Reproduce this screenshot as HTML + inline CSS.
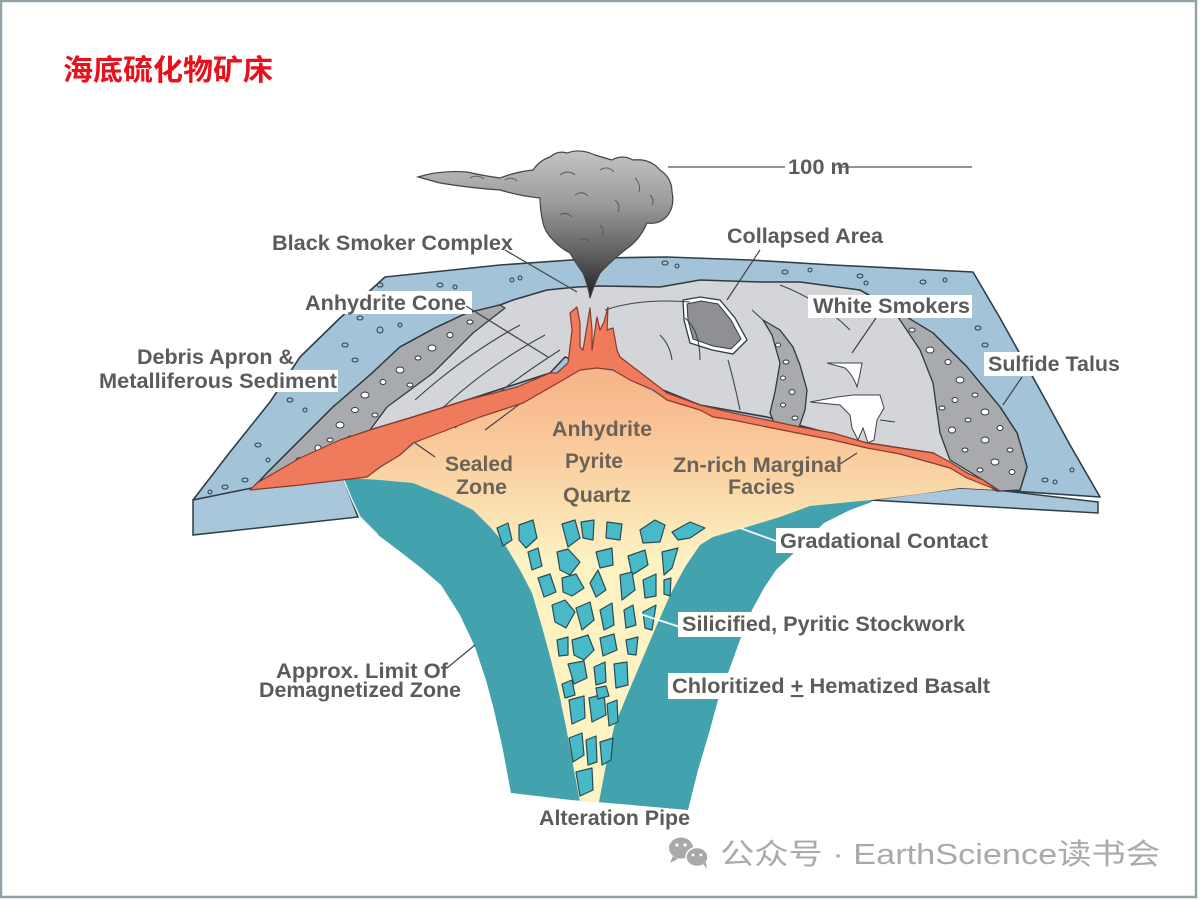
<!DOCTYPE html>
<html><head><meta charset="utf-8"><style>
html,body{margin:0;padding:0;background:#fff;}
svg{display:block;}
</style></head><body>
<svg width="1200" height="900" viewBox="0 0 1200 900" xmlns="http://www.w3.org/2000/svg">
<defs>
<linearGradient id="smoke" x1="0" y1="150" x2="0" y2="300" gradientUnits="userSpaceOnUse">
<stop offset="0" stop-color="#c4c4c4"/><stop offset="0.35" stop-color="#9c9c9c"/><stop offset="0.7" stop-color="#5e5e5e"/><stop offset="1" stop-color="#1e1e1e"/>
</linearGradient>
<linearGradient id="alt" x1="0" y1="380" x2="0" y2="560" gradientUnits="userSpaceOnUse">
<stop offset="0" stop-color="#f7b68a"/><stop offset="0.4" stop-color="#f9cb9d"/><stop offset="0.75" stop-color="#fbe2b2"/><stop offset="1" stop-color="#fcf2c2"/>
</linearGradient>
</defs>
<rect x="0" y="0" width="1200" height="900" fill="#fff"/>
<rect x="1" y="1" width="1195" height="896" fill="none" stroke="#91a2a8" stroke-width="2.5"/>

<!-- title -->
<text x="63" y="80" font-family="'Liberation Sans','Noto Sans CJK SC',sans-serif" font-weight="bold" font-size="29" fill="#e8101a" textLength="210" lengthAdjust="spacingAndGlyphs">海底硫化物矿床</text>

<!-- blue slab top surface -->
<polygon points="193,500 230,452 270,402 300,357 340,318 385,277 500,265 600,258 667,257 750,260 833,265 973,272 1000,318 1040,390 1070,445 1100,497 997,490 960,488 872,500 345,478 253,488" fill="#a3c4d8" stroke="#2f3d47" stroke-width="1.6" stroke-linejoin="round"/>
<!-- left front face -->
<polygon points="193,500 257,487 343,478 358,517 193,535" fill="#a8c7da" stroke="#2f3d47" stroke-width="1.5"/>
<!-- right front face -->
<polygon points="870,500 960,488 997,490 1098,502 1098,513" fill="#a8c7da" stroke="#2f3d47" stroke-width="1.5"/>

<!-- teal pipe -->
<polygon points="343,478 352,500 360,517 378,535 394,547 420,567 441,585 460,615 475,647 486,680 494,710 503,750 511,793 571,800 597,802 688,810 698,770 709,733 718,700 728,673 740,640 752,610 764,588 776,570 800,547 824,523 850,510 872,502 870,500 700,500 400,480" fill="#42a2ad"/>
<polyline points="343,478 352,500 360,517 378,535" fill="none" stroke="#e8f4f6" stroke-width="1.5"/>

<!-- alteration zone (peach + pipe) -->
<polygon points="250,490 300,485 367,477 400,455 417,443 450,420 500,400 550,380 577,371 600,368 623,375 640,385 667,400 700,410 733,420 767,427 833,440 867,448 900,454 950,468 967,478 997,490 960,488 920,494 872,500 850,502 810,506 780,517 747,527 713,537 700,545 685,567 671,593 656,627 642,660 628,693 614,727 606,765 599,802 580,802 573,765 566,727 559,693 551,660 542,627 532,593 520,570 504,543 490,527 473,510 447,497 413,483 380,480 346,478" fill="url(#alt)"/>

<!-- stockwork fragments -->
<g fill="#48b9c8" stroke="#2b4a52" stroke-width="1.2" stroke-linejoin="round">
<polygon points="497,528 508,523 512,540 503,546"/>
<polygon points="519,525 533,520 537,538 526,548 519,540"/>
<polygon points="562,524 575,520 580,538 568,547"/>
<polygon points="581,522 594,520 593,540 583,538"/>
<polygon points="607,522 622,524 620,540 606,538"/>
<polygon points="640,530 655,520 665,525 660,542 643,543"/>
<polygon points="672,532 690,522 705,528 690,538 678,540"/>
<polygon points="528,552 538,548 542,566 532,570"/>
<polygon points="557,552 568,549 580,562 570,575 560,570"/>
<polygon points="596,552 612,548 613,565 600,568"/>
<polygon points="628,556 645,550 648,565 632,575"/>
<polygon points="662,552 678,548 672,568 664,575"/>
<polygon points="538,578 550,574 556,592 544,597"/>
<polygon points="562,578 576,574 584,588 572,596 563,592"/>
<polygon points="590,583 598,570 606,590 596,597"/>
<polygon points="620,575 632,572 635,590 622,600"/>
<polygon points="643,580 656,574 656,596 645,598"/>
<polygon points="664,580 671,578 670,596 664,594"/>
<polygon points="552,605 565,600 575,612 566,628 555,622"/>
<polygon points="576,608 590,602 594,620 582,630"/>
<polygon points="600,610 612,603 614,625 604,630"/>
<polygon points="624,610 633,605 636,625 626,628"/>
<polygon points="643,612 656,605 652,630 645,628"/>
<polygon points="557,640 568,637 568,655 559,656"/>
<polygon points="572,640 588,635 594,650 584,660 574,655"/>
<polygon points="600,638 614,634 617,650 603,656"/>
<polygon points="626,640 638,637 636,655 628,654"/>
<polygon points="568,664 584,661 587,678 574,684"/>
<polygon points="594,667 605,662 606,682 596,685"/>
<polygon points="614,664 627,662 628,685 616,688"/>
<polygon points="562,684 572,680 575,695 565,698"/>
<polygon points="569,700 584,696 585,718 572,724"/>
<polygon points="589,698 604,694 606,715 592,722"/>
<polygon points="607,704 617,700 618,722 609,726"/>
<polygon points="596,688 606,686 609,696 598,699"/>
<polygon points="569,738 582,733 584,755 573,762"/>
<polygon points="586,740 596,736 597,762 588,765"/>
<polygon points="600,742 613,738 611,760 602,765"/>
<polygon points="576,772 592,768 593,790 580,796"/>
</g>

<!-- gray mound -->
<polygon points="253,488 267,473 300,440 333,407 370,375 400,347 435,328 467,313 500,305 513,300 547,290 577,287 600,286 660,287 700,280 760,282 800,282 860,290 895,310 933,333 967,367 1000,407 1017,433 1027,467 1020,490 997,491 967,473 933,453 867,443 767,417 700,405 633,378 617,365 600,368 565,357 550,373 467,400 413,417 370,430 257,483" fill="#d4d5d8" stroke="#2f3a40" stroke-width="1.6" stroke-linejoin="round"/>

<!-- left debris apron -->
<polygon points="253,488 267,473 300,440 333,407 370,375 400,347 435,328 467,313 500,305 505,308 473,333 433,373 387,407 370,430 340,445 300,465 257,483" fill="#a9aaad" stroke="#2f3a40" stroke-width="1.3" stroke-linejoin="round"/>
<!-- right talus -->
<polygon points="893,310 900,313 933,333 967,367 1000,407 1017,433 1027,467 1020,490 1000,491 983,480 950,460 940,433 933,383 920,350 900,320" fill="#a9aaad" stroke="#2f3a40" stroke-width="1.3" stroke-linejoin="round"/>
<!-- middle talus -->
<polygon points="763,320 772,335 780,363 775,392 770,413 775,425 797,433 805,410 807,390 800,365 793,347 780,330" fill="#a9aaad" stroke="#2f3a40" stroke-width="1.3" stroke-linejoin="round"/>
<!-- collapsed blob -->
<polygon points="683,300 700,297 720,300 735,318 747,340 733,354 712,350 690,343 684,320" fill="#fff" stroke="#2f3a40" stroke-width="1.3"/>
<polygon points="687,304 701,301 718,304 731,320 741,339 731,349 713,346 693,339 688,320" fill="#8f9094" stroke="#2f3a40" stroke-width="1"/>

<!-- debris pebbles -->
<g fill="#fff" stroke="#2f3a40" stroke-width="1">
<ellipse cx="300" cy="460" rx="4" ry="2.5"/><ellipse cx="318" cy="448" rx="3" ry="3"/><ellipse cx="285" cy="470" rx="3.5" ry="2"/>
<ellipse cx="340" cy="425" rx="4" ry="3"/><ellipse cx="330" cy="440" rx="3" ry="2"/><ellipse cx="355" cy="410" rx="3.5" ry="2.5"/>
<ellipse cx="365" cy="395" rx="4" ry="3"/><ellipse cx="383" cy="382" rx="3" ry="2.5"/><ellipse cx="400" cy="370" rx="4" ry="3"/>
<ellipse cx="418" cy="358" rx="3" ry="2"/><ellipse cx="432" cy="348" rx="4" ry="3"/><ellipse cx="450" cy="335" rx="3" ry="2.5"/>
<ellipse cx="470" cy="322" rx="3" ry="2"/><ellipse cx="375" cy="415" rx="3" ry="2"/><ellipse cx="350" cy="438" rx="2.5" ry="2"/>
<ellipse cx="410" cy="385" rx="3" ry="2"/><ellipse cx="310" cy="470" rx="3" ry="2"/><ellipse cx="275" cy="478" rx="3" ry="2"/>
<ellipse cx="912" cy="330" rx="3" ry="2"/><ellipse cx="930" cy="350" rx="4" ry="3"/><ellipse cx="948" cy="362" rx="3" ry="2.5"/>
<ellipse cx="960" cy="380" rx="4" ry="3"/><ellipse cx="975" cy="395" rx="3" ry="2"/><ellipse cx="955" cy="400" rx="3" ry="2.5"/>
<ellipse cx="985" cy="412" rx="4" ry="3"/><ellipse cx="968" cy="420" rx="3" ry="2"/><ellipse cx="1000" cy="428" rx="3" ry="2.5"/>
<ellipse cx="952" cy="430" rx="3.5" ry="3"/><ellipse cx="985" cy="440" rx="4" ry="3"/><ellipse cx="1010" cy="450" rx="3" ry="2"/>
<ellipse cx="965" cy="450" rx="3" ry="2"/><ellipse cx="995" cy="462" rx="4" ry="3"/><ellipse cx="1012" cy="472" rx="3" ry="2.5"/>
<ellipse cx="980" cy="470" rx="3" ry="2"/><ellipse cx="942" cy="408" rx="3" ry="2"/>
<ellipse cx="778" cy="345" rx="2.5" ry="2"/><ellipse cx="786" cy="362" rx="3" ry="2"/><ellipse cx="783" cy="378" rx="2.5" ry="2"/>
<ellipse cx="792" cy="392" rx="3" ry="2.5"/><ellipse cx="783" cy="405" rx="2.5" ry="2"/><ellipse cx="795" cy="418" rx="3" ry="2"/>
</g>

<!-- blue pebbles -->
<g fill="none" stroke="#2f3d47" stroke-width="1">
<ellipse cx="380" cy="285" rx="3" ry="2"/><ellipse cx="440" cy="285" rx="3" ry="2"/><ellipse cx="455" cy="287" rx="2" ry="2"/>
<ellipse cx="512" cy="280" rx="2" ry="2"/><ellipse cx="520" cy="278" rx="2" ry="2"/><ellipse cx="345" cy="345" rx="3" ry="2"/>
<ellipse cx="355" cy="360" rx="3" ry="2"/><ellipse cx="360" cy="318" rx="3" ry="2"/><ellipse cx="380" cy="330" rx="3" ry="3"/>
<ellipse cx="400" cy="325" rx="2" ry="2"/><ellipse cx="332" cy="387" rx="3" ry="2"/><ellipse cx="290" cy="400" rx="3" ry="2"/>
<ellipse cx="305" cy="410" rx="2" ry="2"/><ellipse cx="258" cy="445" rx="3" ry="2"/><ellipse cx="268" cy="460" rx="2" ry="2"/>
<ellipse cx="245" cy="480" rx="3" ry="2"/><ellipse cx="225" cy="487" rx="3" ry="2"/><ellipse cx="210" cy="492" rx="2" ry="2"/>
<ellipse cx="665" cy="263" rx="3" ry="2"/><ellipse cx="677" cy="266" rx="2" ry="2"/><ellipse cx="785" cy="272" rx="3" ry="2"/>
<ellipse cx="810" cy="270" rx="2" ry="2"/><ellipse cx="860" cy="276" rx="3" ry="2"/><ellipse cx="866" cy="283" rx="2" ry="2"/>
<ellipse cx="923" cy="282" rx="3" ry="2"/><ellipse cx="945" cy="280" rx="2" ry="2"/><ellipse cx="978" cy="328" rx="3" ry="2"/>
<ellipse cx="985" cy="345" rx="3" ry="2"/><ellipse cx="1045" cy="480" rx="3" ry="2"/><ellipse cx="1055" cy="482" rx="2" ry="2"/>
<ellipse cx="1072" cy="470" rx="2" ry="2"/>
</g>

<!-- mound internal lines -->
<g fill="none" stroke="#3c4448" stroke-width="1.1">
<path d="M430,420 Q480,370 545,335"/>
<path d="M455,428 Q505,385 560,350"/>
<path d="M485,430 Q525,400 565,370"/>
<path d="M415,400 Q465,355 520,325"/>
<path d="M605,310 Q640,298 690,302"/>
<path d="M700,360 Q700,330 685,318"/>
<path d="M728,360 Q735,385 740,410"/>
<path d="M660,335 Q670,345 672,360"/>
<path d="M752,310 L763,320"/>
<path d="M780,285 Q820,300 850,330"/>
<path d="M880,420 L895,422"/>
</g>

<!-- white smokers -->
<g fill="#fff" stroke="#3c4448" stroke-width="1">
<path d="M827,363 L862,363 Q860,375 857,387 Q853,375 845,368 Z"/>
<path d="M810,402 L837,397 L853,395 L880,395 L884,408 L877,420 L874,440 L868,443 L863,428 L858,440 L852,428 L850,415 L840,405 Z"/>
</g>

<!-- orange band -->
<polygon points="250,490 257,483 300,458 340,440 370,430 413,417 467,400 517,387 550,373 557,373 568,363 570,347 572,330 570,313 577,307 580,323 580,347 583,350 588,320 590,308 592,330 592,350 597,317 600,330 604,322 608,307 607,330 613,328 617,350 620,357 637,370 667,393 700,405 733,413 767,420 800,427 833,433 867,443 900,448 933,453 950,462 967,473 983,480 993,487 1000,491 997,490 967,478 950,468 900,454 867,448 833,440 767,427 733,420 713,417 700,410 667,400 653,390 630,380 613,370 597,368 580,370 563,380 523,403 480,417 447,430 413,443 400,455 380,467 367,477 300,485" fill="#ef7a5c" stroke="#8a3a28" stroke-width="1.2" stroke-linejoin="round"/>

<!-- smoke plume -->
<path d="M418,177 Q440,170 467,172 Q485,176 500,178 Q515,172 533,170 Q540,160 550,157 Q558,150 567,153 Q580,148 595,155 Q605,158 612,160 Q622,154 633,160 Q650,158 660,170 Q672,178 672,192 Q675,205 668,215 Q660,225 647,223 Q640,240 625,250 Q610,262 600,273 Q594,285 590,298 Q588,285 583,273 Q575,262 570,253 Q560,248 553,240 Q545,232 543,223 Q540,210 540,198 Q520,196 500,190 Q470,188 440,183 Z" fill="url(#smoke)" stroke="#444" stroke-width="1.2"/>
<g fill="none" stroke="#555" stroke-width="0.9">
<path d="M560,175 q8,-6 15,0"/><path d="M600,170 q8,-5 14,2"/><path d="M635,178 q6,6 4,14"/><path d="M575,195 q7,-5 13,1"/><path d="M615,200 q6,5 3,12"/><path d="M560,215 q6,-4 12,2"/><path d="M600,225 q5,5 2,12"/><path d="M580,240 q5,-3 9,2"/><path d="M470,178 q8,-4 14,1"/><path d="M505,180 q7,-4 12,1"/><path d="M650,195 q5,5 2,10"/>
</g>

<!-- scale bar -->
<line x1="668" y1="167" x2="785" y2="167" stroke="#555" stroke-width="1.3"/>
<line x1="838" y1="167" x2="972" y2="167" stroke="#555" stroke-width="1.3"/>

<!-- label backgrounds -->
<g fill="#fff">
<rect x="302" y="291" width="170" height="23"/>
<rect x="808" y="295" width="164" height="23"/>
<rect x="95" y="370" width="243" height="22"/>
<rect x="984" y="352" width="138" height="24"/>
<rect x="776" y="528" width="216" height="25"/>
<rect x="678" y="612" width="290" height="25"/>
<rect x="668" y="673" width="325" height="26"/>
</g>

<!-- leaders -->
<g stroke="#444" stroke-width="1.2" fill="none">
<line x1="505" y1="250" x2="577" y2="292"/>
<line x1="760" y1="250" x2="727" y2="300"/>
<line x1="466" y1="306" x2="548" y2="357"/>
<line x1="876" y1="318" x2="852" y2="353"/>
<line x1="1022" y1="377" x2="1003" y2="405"/>
<line x1="415" y1="443" x2="435" y2="457"/>
<line x1="837" y1="466" x2="857" y2="453"/>
<line x1="447" y1="668" x2="475" y2="645"/>
</g>
<g stroke="#f4fbfc" stroke-width="1.8" fill="none">
<line x1="740" y1="528" x2="776" y2="541"/>
<line x1="640" y1="614" x2="680" y2="627"/>
</g>

<!-- labels -->
<g font-family="'Liberation Sans',Arial,sans-serif" font-weight="bold" font-size="21" fill="#5b5b5b">
<text x="788" y="174" textLength="62" lengthAdjust="spacingAndGlyphs">100 m</text>
<text x="272" y="250" textLength="241" lengthAdjust="spacingAndGlyphs">Black Smoker Complex</text>
<text x="727" y="243" textLength="156" lengthAdjust="spacingAndGlyphs">Collapsed Area</text>
<text x="305" y="310" textLength="161" lengthAdjust="spacingAndGlyphs">Anhydrite Cone</text>
<text x="813" y="313" textLength="157" lengthAdjust="spacingAndGlyphs">White Smokers</text>
<text x="137" y="364" textLength="157" lengthAdjust="spacingAndGlyphs">Debris Apron &amp;</text>
<text x="99" y="388" textLength="238" lengthAdjust="spacingAndGlyphs">Metalliferous Sediment</text>
<text x="988" y="371" textLength="132" lengthAdjust="spacingAndGlyphs">Sulfide Talus</text>
<text x="445" y="471" textLength="68" lengthAdjust="spacingAndGlyphs" fill="#6b6358">Sealed</text>
<text x="456" y="494" textLength="51" lengthAdjust="spacingAndGlyphs" fill="#6b6358">Zone</text>
<text x="552" y="436" textLength="100" lengthAdjust="spacingAndGlyphs" fill="#6b6358">Anhydrite</text>
<text x="565" y="468" textLength="58" lengthAdjust="spacingAndGlyphs" fill="#6b6358">Pyrite</text>
<text x="563" y="502" textLength="68" lengthAdjust="spacingAndGlyphs" fill="#6b6358">Quartz</text>
<text x="673" y="472" textLength="169" lengthAdjust="spacingAndGlyphs" fill="#6b6358">Zn-rich Marginal</text>
<text x="728" y="494" textLength="67" lengthAdjust="spacingAndGlyphs" fill="#6b6358">Facies</text>
<text x="780" y="548" textLength="208" lengthAdjust="spacingAndGlyphs">Gradational Contact</text>
<text x="682" y="631" textLength="283" lengthAdjust="spacingAndGlyphs">Silicified, Pyritic Stockwork</text>
<text x="672" y="693" textLength="318" lengthAdjust="spacingAndGlyphs">Chloritized <tspan text-decoration="underline">+</tspan> Hematized Basalt</text>
<text x="276" y="678" textLength="172" lengthAdjust="spacingAndGlyphs">Approx. Limit Of</text>
<text x="259" y="697" textLength="202" lengthAdjust="spacingAndGlyphs">Demagnetized Zone</text>
<text x="539" y="825" textLength="151" lengthAdjust="spacingAndGlyphs">Alteration Pipe</text>
</g>

<!-- watermark -->
<g fill="#a9a9a9">
<ellipse cx="681" cy="848" rx="12" ry="10.5"/>
<path d="M673,856 l-3,7 l8,-4 z"/>
<ellipse cx="697" cy="857" rx="11" ry="9.5" fill="#a9a9a9" stroke="#fff" stroke-width="1.5"/>
<path d="M703,864 l4,5 l-1,-7 z"/>
<circle cx="677" cy="845" r="1.6" fill="#fff"/><circle cx="685" cy="845" r="1.6" fill="#fff"/>
<circle cx="693" cy="855" r="1.4" fill="#fff"/><circle cx="701" cy="855" r="1.4" fill="#fff"/>
</g>
<text x="720" y="864" font-family="'Liberation Sans','Noto Sans CJK SC',sans-serif" font-size="29" fill="#aaaaaa" textLength="440" lengthAdjust="spacingAndGlyphs">公众号 · EarthScience读书会</text>
</svg>
</body></html>
